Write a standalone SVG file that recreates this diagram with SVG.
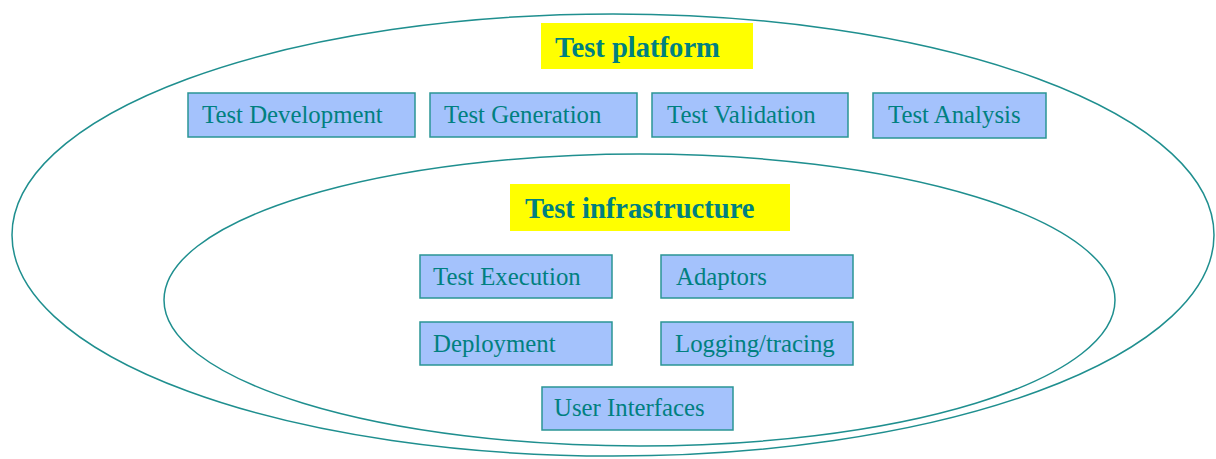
<svg xmlns="http://www.w3.org/2000/svg" width="1216" height="459" viewBox="0 0 1216 459">
<style>
.ring{fill:none;stroke:#1f8f8f;stroke-width:1.5}
.box{fill:#a4c2fc;stroke:#2a9595;stroke-width:1.5}
.lbl{font-family:"Liberation Serif",serif;font-size:24.8px;fill:#008080}
.hdr{fill:#ffff00}
.ttl{font-family:"Liberation Serif",serif;font-size:28.6px;font-weight:bold;fill:#008080}
</style>
<rect width="1216" height="459" fill="#ffffff"/>
<g id="outer-ellipse"><ellipse class="ring" cx="613" cy="235" rx="601" ry="221"/></g>
<g id="inner-ellipse"><ellipse class="ring" cx="639.5" cy="300" rx="475.5" ry="146"/></g>
<g id="test-platform"><rect class="hdr" x="541" y="23" width="212" height="46"/><text class="ttl" x="555" y="57">Test platform</text></g>
<g id="test-development"><rect class="box" x="188" y="93" width="227" height="44"/><text class="lbl" x="202" y="123">Test Development</text></g>
<g id="test-generation"><rect class="box" x="430" y="93" width="207" height="44"/><text class="lbl" x="444" y="123">Test Generation</text></g>
<g id="test-validation"><rect class="box" x="652" y="93" width="196" height="44"/><text class="lbl" x="667" y="123">Test Validation</text></g>
<g id="test-analysis"><rect class="box" x="873" y="93" width="173" height="45"/><text class="lbl" x="888" y="123">Test Analysis</text></g>
<g id="test-infrastructure"><rect class="hdr" x="510" y="184" width="280" height="47"/><text class="ttl" x="525" y="218">Test infrastructure</text></g>
<g id="test-execution"><rect class="box" x="420" y="255" width="192" height="43"/><text class="lbl" x="433" y="285">Test Execution</text></g>
<g id="adaptors"><rect class="box" x="661" y="255" width="192" height="43"/><text class="lbl" x="676" y="285">Adaptors</text></g>
<g id="deployment"><rect class="box" x="420" y="322" width="192" height="43"/><text class="lbl" x="433" y="352">Deployment</text></g>
<g id="logging-tracing"><rect class="box" x="661" y="322" width="192" height="43"/><text class="lbl" x="675" y="352">Logging/tracing</text></g>
<g id="user-interfaces"><rect class="box" x="542" y="387" width="191" height="43"/><text class="lbl" x="554" y="416">User Interfaces</text></g>
<g id="connectors"></g>
</svg>
